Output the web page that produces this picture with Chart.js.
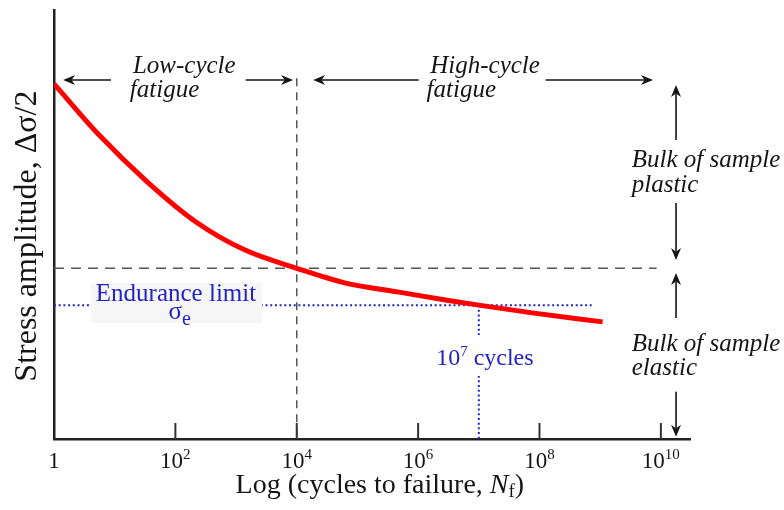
<!DOCTYPE html>
<html>
<head>
<meta charset="utf-8">
<script src="https://cdn.jsdelivr.net/npm/chart.js@4.4.1/dist/chart.umd.min.js"></script>
<style>
  html, body { margin: 0; padding: 0; background: #fff; }
  #wrap { width: 784px; height: 510px; }
</style>
</head>
<body>
<div id="wrap"><canvas id="snChart"></canvas></div>
<script>
// S-N curve, x is log10(cycles to failure), y is stress amplitude (arbitrary units)
const logCycles = [0, 0.74, 1.54, 2.34, 3.14, 4, 4.79, 5.66, 6.5, 7, 7.88, 9.04];
const stressAmp = [82.8, 70.9, 59.9, 50.6, 44.1, 39.8, 36.4, 34.3, 32.3, 31.2, 29.4, 27.3];
const tickValues = [0, 2, 4, 6, 8, 10];
const tickLabels = ['1', '10^2', '10^4', '10^6', '10^8', '10^10'];

const lowHighBoundary = 4;        // 10^4 cycles
const plasticElasticLevel = 39.8;
const enduranceLimit = 31.2;
const enduranceCycles = 7;        // 10^7 cycles
const arrowLevel = 83.7;
const dashedEnd = 9.93;
const dottedEnd = 8.86;

const SERIF = "'Liberation Serif', 'Times New Roman', serif";
const BLUE = '#2323c4';
const INK = '#151515';

const ctx = document.getElementById('snChart').getContext('2d');

function drawRich(c, parts, x, y, align) {
    let w = 0;
    parts.forEach(p => { c.font = p.font; p.w = c.measureText(p.t).width; w += p.w; });
    let cx = align === 'center' ? x - w / 2 : x;
    parts.forEach(p => {
        c.font = p.font;
        c.fillText(p.t, cx, y + (p.dy || 0));
        cx += p.w;
    });
    return w;
}

function arrow(c, x1, y1, x2, y2) {
    const a = Math.atan2(y2 - y1, x2 - x1), len = 12, hw = 5;
    c.beginPath();
    c.moveTo(x1, y1);
    c.lineTo(x2 - Math.cos(a) * len * 0.7, y2 - Math.sin(a) * len * 0.7);
    c.stroke();
    c.save();
    c.translate(x2, y2);
    c.rotate(a);
    c.beginPath();
    c.moveTo(0, 0);
    c.lineTo(-len, -hw);
    c.lineTo(-len * 0.7, 0);
    c.lineTo(-len, hw);
    c.closePath();
    c.fill();
    c.restore();
}

// arrows: [fromX, fromY, toX, toY] in data units
const arrowSpecs = [
    [0.94, arrowLevel, 0.15, arrowLevel],
    [3.16, arrowLevel, 3.94, arrowLevel],
    [6.01, arrowLevel, 4.27, arrowLevel],
    [8.10, arrowLevel, 9.87, arrowLevel],
    [10.25, 69.7, 10.25, 82.5],
    [10.25, 55.0, 10.25, 41.7],
    [10.25, 28.2, 10.25, 38.7],
    [10.25, 11.0, 10.25, 0.5]
];

const ITAL = 'italic 25px ' + SERIF;
const italicNotes = [
    ['Low-cycle', 1.30, 85.3],
    ['fatigue', 1.25, 79.7],
    ['High-cycle', 6.20, 85.3],
    ['fatigue', 6.14, 79.7],
    ['Bulk of sample', 9.52, 63.4],
    ['plastic', 9.52, 57.6],
    ['Bulk of sample', 9.52, 20.5],
    ['elastic', 9.52, 14.9]
];

const annotate = {
    id: 'annotate',
    afterDatasetsDraw(chart) {
        const c = chart.ctx;
        const area = chart.chartArea;
        const xs = chart.scales.x, ys = chart.scales.y;
        const px = v => xs.getPixelForValue(v);
        const py = v => ys.getPixelForValue(v);
        c.save();
        c.textAlign = 'left';
        c.textBaseline = 'alphabetic';

        // inward tick marks and tick labels
        c.strokeStyle = '#333';
        c.lineWidth = 2;
        c.fillStyle = INK;
        tickValues.forEach((v, i) => {
            const x = px(v);
            if (v > 0) {
                c.beginPath();
                c.moveTo(x, area.bottom);
                c.lineTo(x, area.bottom - 16);
                c.stroke();
            }
            const [base, sup] = tickLabels[i].split('^');
            const parts = [{ t: base, font: '23px ' + SERIF }];
            if (sup) parts.push({ t: sup, font: '15px ' + SERIF, dy: -9 });
            drawRich(c, parts, x, area.bottom + 29, 'center');
        });

        // axis titles
        drawRich(c, [
            { t: 'Log (cycles to failure, ', font: '28px ' + SERIF },
            { t: 'N', font: 'italic 28px ' + SERIF },
            { t: 'f', font: '19px ' + SERIF, dy: 4 },
            { t: ')', font: '28px ' + SERIF }
        ], px(5.37), area.bottom + 54, 'center');

        c.save();
        c.translate(area.left - 18, py(47.3));
        c.rotate(-Math.PI / 2);
        drawRich(c, [{ t: 'Stress amplitude, \u0394\u03c3/2', font: '32px ' + SERIF }], 0, 0, 'center');
        c.restore();

        // arrows
        c.strokeStyle = INK;
        c.fillStyle = INK;
        c.lineWidth = 1.6;
        arrowSpecs.forEach(s => arrow(c, px(s[0]), py(s[1]), px(s[2]), py(s[3])));

        // italic region notes
        c.font = ITAL;
        italicNotes.forEach(n => c.fillText(n[0], px(n[1]), py(n[2])));

        // endurance limit label with light box
        c.fillStyle = '#f6f6f6';
        c.fillRect(px(0.61), py(36.4), px(3.43) - px(0.61), py(27.0) - py(36.4));
        c.fillStyle = BLUE;
        drawRich(c, [{ t: 'Endurance limit', font: '25px ' + SERIF }], px(2.01), py(32.2), 'center');
        drawRich(c, [
            { t: '\u03c3', font: '25px ' + SERIF },
            { t: 'e', font: '20px ' + SERIF, dy: 6 }
        ], px(2.07), py(28.0), 'center');

        // 10^7 cycles label
        c.fillStyle = '#ffffff';
        c.fillRect(px(6.2), py(24.2), px(8.0) - px(6.2), py(14.7) - py(24.2));
        c.fillStyle = BLUE;
        drawRich(c, [
            { t: '10', font: '24px ' + SERIF },
            { t: '7', font: '15px ' + SERIF, dy: -9 },
            { t: ' cycles', font: '24px ' + SERIF }
        ], px(7.1), py(17.2), 'center');

        c.restore();
    }
};

new Chart(ctx, {
    type: 'line',
    data: {
        datasets: [
            {
                label: 'S-N curve',
                data: logCycles.map((v, i) => ({ x: v, y: stressAmp[i] })),
                borderColor: '#ff0000',
                borderWidth: 5,
                cubicInterpolationMode: 'monotone',
                pointRadius: 0
            },
            {
                label: 'low/high boundary',
                data: [{ x: lowHighBoundary, y: arrowLevel + 0.4 }, { x: lowHighBoundary, y: 0 }],
                borderColor: '#555',
                borderWidth: 1.5,
                borderDash: [8, 6],
                pointRadius: 0
            },
            {
                label: 'plastic/elastic',
                data: [{ x: 0, y: plasticElasticLevel }, { x: dashedEnd, y: plasticElasticLevel }],
                borderColor: '#555',
                borderWidth: 1.5,
                borderDash: [10, 7],
                pointRadius: 0
            },
            {
                label: 'endurance limit',
                data: [{ x: 0, y: enduranceLimit }, { x: dottedEnd, y: enduranceLimit }],
                borderColor: BLUE,
                borderWidth: 2,
                borderDash: [2, 2.7],
                pointRadius: 0
            },
            {
                label: '10^7 cycles',
                data: [{ x: enduranceCycles, y: enduranceLimit }, { x: enduranceCycles, y: 0 }],
                borderColor: BLUE,
                borderWidth: 2,
                borderDash: [2, 2.7],
                pointRadius: 0
            }
        ]
    },
    options: {
        responsive: true,
        maintainAspectRatio: false,
        animation: false,
        events: [],
        layout: {
            padding: { left: 54, right: 94, top: 10, bottom: 71 }
        },
        plugins: {
            legend: { display: false },
            tooltip: { enabled: false }
        },
        scales: {
            x: {
                type: 'linear',
                min: 0,
                max: 10.48,
                grid: { display: false, drawTicks: false },
                border: { display: true, color: '#222', width: 2.5 },
                ticks: { display: false }
            },
            y: {
                type: 'linear',
                min: 0,
                max: 100,
                grid: { display: false, drawTicks: false },
                border: { display: true, color: '#222', width: 2.5 },
                ticks: { display: false }
            }
        }
    },
    plugins: [annotate]
});
</script>
</body>
</html>
